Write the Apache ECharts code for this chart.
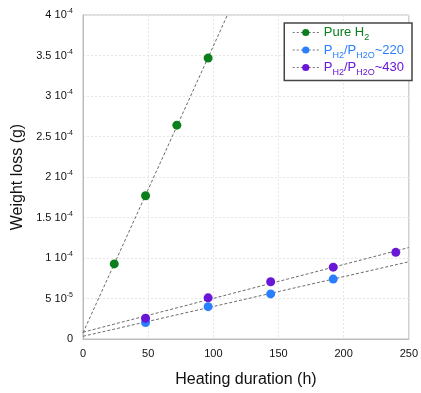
<!DOCTYPE html>
<html>
<head>
<meta charset="utf-8">
<script src="https://cdn.jsdelivr.net/npm/echarts@6/dist/echarts.min.js"></script>
<style>
  html, body { margin: 0; padding: 0; background: #fff; }
  #chart { width: 421px; height: 393px; }
</style>
</head>
<body>
<div id="chart"></div>
<script>
// heating duration (h) and weight loss (g)
const pureH2X = [24, 48, 72, 96];
const pureH2Y = [0.927e-4, 1.768e-4, 2.64e-4, 3.468e-4];
const r220X = [48, 96, 144, 192];
const r220Y = [0.204e-4, 0.399e-4, 0.557e-4, 0.740e-4];
const r430X = [48, 96, 144, 192, 240];
const r430Y = [0.256e-4, 0.508e-4, 0.707e-4, 0.887e-4, 1.07e-4];
const xTicks = [0, 50, 100, 150, 200, 250];

const colors = { pure: "#0a7f1c", r220: "#2a7fff", r430: "#6a16d6" };

// least squares fit, drawn from 0 to the axis max
function fit(xs, ys) {
  const n = xs.length;
  const mx = xs.reduce((a, b) => a + b, 0) / n;
  const my = ys.reduce((a, b) => a + b, 0) / n;
  let sxy = 0, sxx = 0;
  xs.forEach((x, i) => { sxy += (x - mx) * (ys[i] - my); sxx += (x - mx) * (x - mx); });
  const k = sxy / sxx, b = my - k * mx;
  const x1 = xTicks[xTicks.length - 1];
  return [[0, b], [x1, b + k * x1]];
}

function pts(xs, ys) {
  return xs.map((x, i) => [x, ys[i]]);
}

function yLabel(v) {
  if (v === 0) return "{n|0}";
  const e = Math.floor(Math.log10(v) + 1e-9);
  const m = Math.round(v / Math.pow(10, e) * 10) / 10;
  return "{n|" + m + " 10}{sup|" + e + "}";
}

const legendNames = {
  "Pure H2": "{g|Pure H}{gs|2}",
  "PH2/PH2O~220": "{b|P}{bs|H2}{b|/P}{bs|H2O}{b|~220}",
  "PH2/PH2O~430": "{p|P}{ps|H2}{p|/P}{ps|H2O}{p|~430}",
};

const fitLine = { color: "#6b6b6b", width: 1, type: [3, 2] };

function dataSeries(name, xs, ys, color) {
  return {
    name,
    type: "line",
    data: pts(xs, ys),
    symbol: "circle",
    symbolSize: 9,
    itemStyle: { color },
    lineStyle: { opacity: 0, width: 0 },
    z: 5,
  };
}

function fitSeries(xs, ys) {
  return {
    type: "line",
    data: fit(xs, ys),
    symbol: "none",
    lineStyle: fitLine,
    clip: true,
    silent: true,
    z: 3,
  };
}

const sub = (c) => ({ color: c, fontSize: 9, fontFamily: "Liberation Sans", padding: [11, 0, 0, 0] });
const main = (c) => ({ color: c, fontSize: 13, fontFamily: "Liberation Sans", height: 18 });

const chart = echarts.init(document.getElementById("chart"));
chart.setOption({
  animation: false,
  grid: { left: 83, right: 9, top: 15, bottom: 51, show: true, borderColor: "#bcbcbc", borderWidth: 1 },
  legend: {
    orient: "vertical",
    right: 9,
    top: 23,
    backgroundColor: "#fff",
    borderColor: "#444",
    borderWidth: 1.5,
    padding: [3, 8, 3, 8],
    itemGap: 1,
    itemWidth: 26,
    itemHeight: 9,
    lineStyle: { color: "#777", width: 1, type: [2, 2], opacity: 1 },
    data: ["Pure H2", "PH2/PH2O~220", "PH2/PH2O~430"],
    formatter: (n) => legendNames[n],
    textStyle: {
      rich: {
        g: main(colors.pure), gs: sub(colors.pure),
        b: main(colors.r220), bs: sub(colors.r220),
        p: main(colors.r430), ps: sub(colors.r430),
      },
    },
  },
  xAxis: {
    type: "value",
    min: 0,
    max: 250,
    interval: 50,
    name: "Heating duration (h)",
    nameLocation: "middle",
    nameGap: 33,
    nameTextStyle: { fontFamily: "Liberation Sans", fontSize: 16, color: "#111" },
    axisLine: { show: true, lineStyle: { color: "#bcbcbc" } },
    axisTick: { show: false },
    axisLabel: { color: "#111", fontSize: 11, fontFamily: "Liberation Sans", margin: 9 },
    splitLine: { lineStyle: { color: "#e6e6e6", type: [2, 2] } },
  },
  yAxis: {
    type: "value",
    min: 0,
    max: 4e-4,
    interval: 5e-5,
    name: "Weight loss (g)",
    nameLocation: "middle",
    nameGap: 57,
    nameTextStyle: { fontFamily: "Liberation Sans", fontSize: 16, color: "#111" },
    axisLine: { show: true, lineStyle: { color: "#bcbcbc" } },
    axisTick: { show: false },
    axisLabel: {
      margin: 10,
      formatter: yLabel,
      rich: {
        n: { color: "#111", fontSize: 11, fontFamily: "Liberation Sans" },
        sup: { color: "#111", fontSize: 7, fontFamily: "Liberation Sans", padding: [0, 0, 7, 0] },
      },
    },
    splitLine: { lineStyle: { color: "#e6e6e6", type: [2, 2] } },
  },
  series: [
    fitSeries(pureH2X, pureH2Y),
    fitSeries(r220X, r220Y),
    fitSeries(r430X, r430Y),
    dataSeries("Pure H2", pureH2X, pureH2Y, colors.pure),
    dataSeries("PH2/PH2O~220", r220X, r220Y, colors.r220),
    dataSeries("PH2/PH2O~430", r430X, r430Y, colors.r430),
  ],
});
</script>
</body>
</html>
